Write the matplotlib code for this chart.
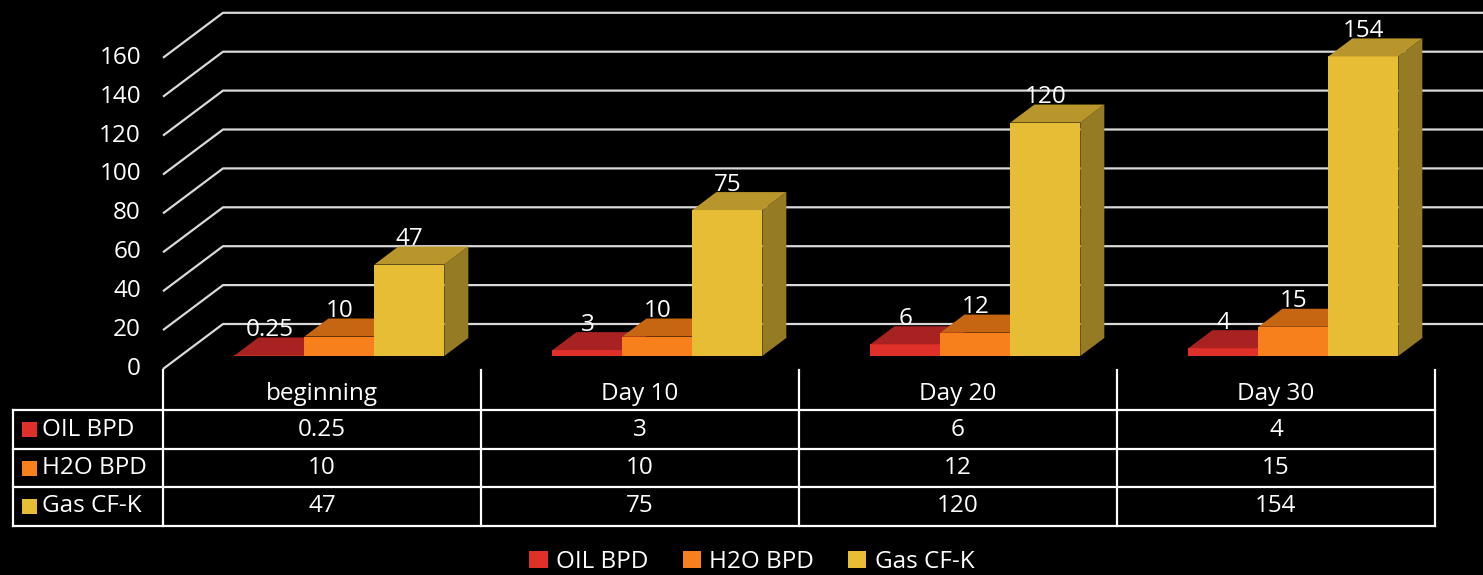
import matplotlib
matplotlib.use("Agg")
import matplotlib.pyplot as plt
from matplotlib.patches import Polygon, Patch

# ---------------- data ----------------
categories = ["beginning", "Day 10", "Day 20", "Day 30"]
series_names = ["OIL BPD", "H2O BPD", "Gas CF-K"]
oil = [0.25, 3, 6, 4]
h2o = [10, 10, 12, 15]
gas = [47, 75, 120, 154]
value_labels = {
    "OIL BPD": ["0.25", "3", "6", "4"],
    "H2O BPD": ["10", "10", "12", "15"],
    "Gas CF-K": ["47", "75", "120", "154"],
}
y_ticks = [0, 20, 40, 60, 80, 100, 120, 140, 160]

# ---------------- style ----------------
front_colors = ["#E0302A", "#F7801C", "#E6BD35"]
top_colors = ["#A82222", "#C66512", "#B8962C"]
side_colors = ["#8A1A1A", "#A85410", "#967B25"]
grid_color = "#D9D9D9"
text_color = "#FFFFFF"
FONT = ["Open Sans", "DejaVu Sans"]
FS = 17.5

W, H = 1483, 575
X0, CW = 163.0, 318.0      # px of category axis start, px per category
Y0, PPU = 369.0, 1.945     # px of value 0 (front), px per value unit
DEPTH_PX = (60.0, 45.0)    # full floor depth offset in px (right, up)
BAR_D0, BAR_D1 = 0.29, 0.69  # bar depth range (fraction of floor depth)
GROUP_W = 0.66             # fraction of category width used by bars

plt.rcParams['font.family'] = FONT
fig = plt.figure(figsize=(W / 100, H / 100), dpi=100, facecolor="black")
ax = fig.add_axes([0, 0, 1, 1])
ax.set_facecolor("black")
ax.set_xlim(-X0 / CW, (W - X0) / CW)
ax.set_ylim(-(H - Y0) / PPU, Y0 / PPU)
ax.axis("off")

ddx = DEPTH_PX[0] / CW
ddy = DEPTH_PX[1] / PPU
n = len(categories)

# gridlines (left wall + back wall)
for v in y_ticks:
    ax.plot([0, ddx, n + ddx], [v, v + ddy, v + ddy], color=grid_color,
            lw=1.6, zorder=1, solid_capstyle="butt")
    ax.text(-22 / CW, v, str(v), ha="right", va="center", color=text_color,
            fontsize=FS, zorder=5)

# 3D bars
series = [oil, h2o, gas]
bw = GROUP_W / len(series)
zo = 2
for i in range(n):
    for s, vals in enumerate(series):
        v = vals[i]
        fx0 = i + 0.5 - GROUP_W / 2 + s * bw + BAR_D0 * ddx
        fx1 = fx0 + bw
        fy0 = BAR_D0 * ddy
        bx = (BAR_D1 - BAR_D0) * ddx
        by = (BAR_D1 - BAR_D0) * ddy
        front = Polygon([(fx0, fy0), (fx1, fy0), (fx1, fy0 + v), (fx0, fy0 + v)],
                        closed=True, facecolor=front_colors[s], edgecolor="none", zorder=zo)
        top = Polygon([(fx0, fy0 + v), (fx1, fy0 + v), (fx1 + bx, fy0 + v + by), (fx0 + bx, fy0 + v + by)],
                      closed=True, facecolor=top_colors[s], edgecolor="none", zorder=zo)
        side = Polygon([(fx1, fy0), (fx1 + bx, fy0 + by), (fx1 + bx, fy0 + v + by), (fx1, fy0 + v)],
                       closed=True, facecolor=side_colors[s], edgecolor="none", zorder=zo)
        ax.add_patch(side)
        ax.add_patch(front)
        ax.add_patch(top)
        zo += 1
        ax.text((fx0 + fx1) / 2, fy0 + v + by + 1.5 / PPU, value_labels[series_names[s]][i],
                ha="center", va="baseline", color=text_color, fontsize=FS, zorder=50)

# ---------------- data table ----------------
def py(p):
    return (Y0 - p) / PPU

row_lines = [410, 449, 487, 526]
left_px = 13
lw_t = 1.6
for p in row_lines:
    ax.plot([(left_px - X0) / CW, n], [py(p), py(p)], color="white", lw=lw_t, zorder=1)
ax.plot([(left_px - X0) / CW] * 2, [py(row_lines[0]), py(row_lines[-1])], color="white", lw=lw_t)
for k in range(n + 1):
    ax.plot([k, k], [py(370), py(row_lines[-1])], color="white", lw=lw_t)

for i, c in enumerate(categories):
    ax.text(i + 0.5, py(394), c, ha="center", va="center", color=text_color, fontsize=FS)

for s, name in enumerate(series_names):
    yc = py((row_lines[s] + row_lines[s + 1]) / 2)
    ax.add_patch(Polygon([((22 - X0) / CW, yc - 7.5 / PPU), ((37 - X0) / CW, yc - 7.5 / PPU),
                          ((37 - X0) / CW, yc + 7.5 / PPU), ((22 - X0) / CW, yc + 7.5 / PPU)],
                         closed=True, facecolor=front_colors[s], edgecolor="none"))
    ax.text((42 - X0) / CW, yc, name, ha="left", va="center", color=text_color, fontsize=FS)
    for i in range(n):
        ax.text(i + 0.5, yc, value_labels[name][i], ha="center", va="center",
                color=text_color, fontsize=FS)

# ---------------- legend ----------------
handles = [Patch(facecolor=front_colors[s], edgecolor="none", label=series_names[s])
           for s in range(len(series_names))]
leg = fig.legend(handles=handles, loc="center", bbox_to_anchor=(752 / W, 1 - 562 / H),
                 ncol=3, frameon=False, fontsize=FS, handlelength=0.75, handleheight=0.75,
                 handletextpad=0.35, columnspacing=1.4, labelcolor=text_color)

fig.savefig("out.png", dpi=100, facecolor="black")
